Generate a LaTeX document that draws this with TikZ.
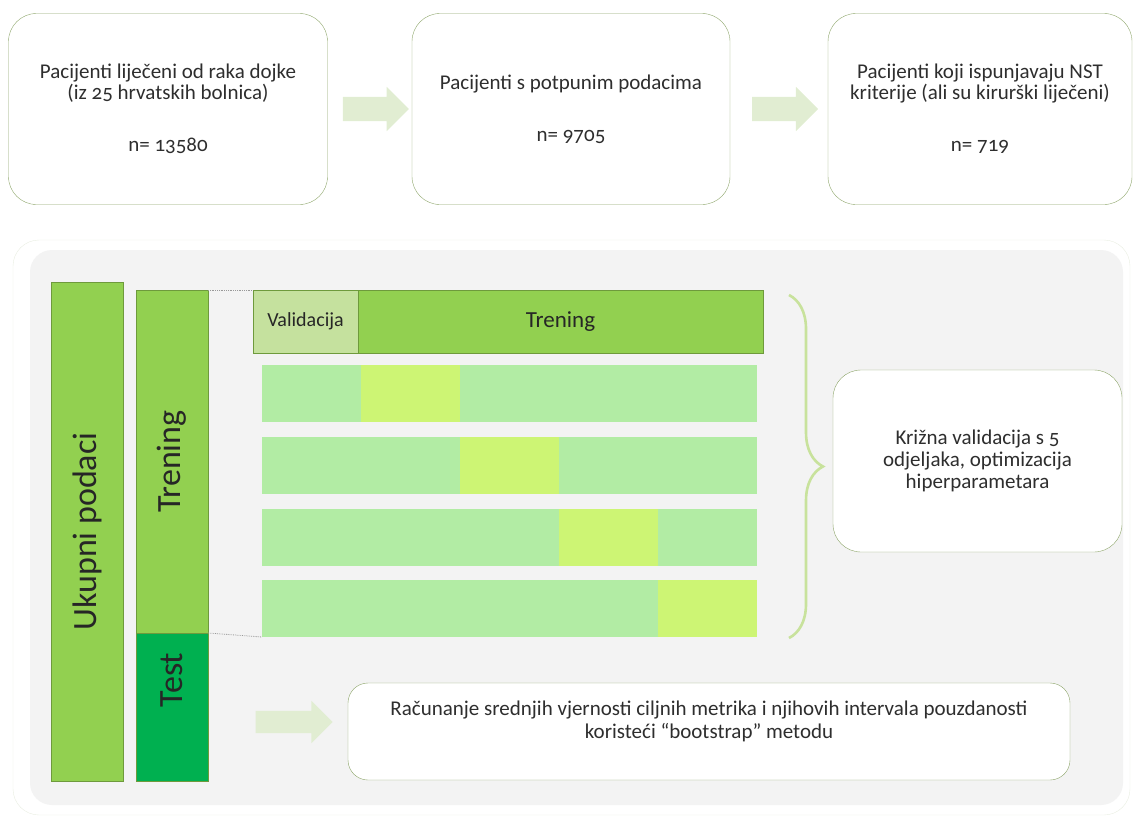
\documentclass[tikz,border=0pt]{standalone}
\usepackage{fontspec}
\setmainfont{Carlito}[Numbers=OldStyle]
\usetikzlibrary{shapes.arrows,positioning,calc,decorations.pathreplacing}
\definecolor{boxline}{HTML}{8EA66B}
\definecolor{arrowgreen}{HTML}{E1EDD2}
\definecolor{bargreen}{HTML}{92D050}
\definecolor{barline}{HTML}{6E9A3C}
\definecolor{testgreen}{HTML}{00B050}
\definecolor{validgreen}{HTML}{C5E19E}
\definecolor{foldgreen}{HTML}{B2ECA4}
\definecolor{foldlime}{HTML}{CDF574}
\definecolor{bracegreen}{HTML}{C8E29C}
\definecolor{panelgray}{HTML}{F3F3F3}
\definecolor{framegray}{HTML}{E9EEE2}
\definecolor{textgray}{HTML}{2E2E2E}

\begin{document}
\begin{tikzpicture}[x=1pt, y=-1pt,
  stepbox/.style={draw=boxline, fill=white, rounded corners=28pt, align=center,
    inner sep=0pt, outer sep=0pt, text=textgray, font=\fontsize{21}{21}\selectfont},
  flowarrow/.style={single arrow, fill=arrowgreen, draw=none, inner sep=0pt,
    inner ysep=12pt, single arrow head extend=10pt, minimum height=66pt},
  bar/.style={draw=barline, fill=bargreen, rotate=90, inner sep=0pt, outer sep=0pt,
    minimum height=72pt, text=black!85, font=\fontsize{34}{36}\selectfont},
  hdrcell/.style={draw=barline, inner sep=0pt, outer sep=0pt, minimum height=63pt,
    text=black!85},
  fold/.style={fill=foldgreen, inner sep=0pt, outer sep=0pt, minimum width=495pt,
    minimum height=57pt},
  foldval/.style={fill=foldlime, inner sep=0pt, outer sep=0pt, minimum width=99pt,
    minimum height=57pt},
  guide/.style={draw=black!40, densely dotted, thick}]
\useasboundingbox (0,0) rectangle (1134,819);

%%% patient selection %%%
      \node[stepbox, minimum width=319pt, minimum height=191pt] (treated) at (168,109)
        {\mbox{}\\[-7pt]Pacijenti liječeni od raka dojke\\(iz 25 hrvatskih bolnica)\\[31pt]n= 13580};
      \node[stepbox, minimum width=318pt, minimum height=191pt] (complete) at (571,109)
        {Pacijenti s potpunim podacima\\[31pt]n= 9705};
      \node[stepbox, minimum width=304pt, minimum height=191pt] (nst) at (980,109)
        {\mbox{}\\[-7pt]Pacijenti koji ispunjavaju NST\\kriterije (ali su kirurški liječeni)\\[31pt]n= 719};
      %%
      \node[flowarrow] (arrowa) at ($(treated.east)!0.5!(complete.west)$) {};
      \node[flowarrow] (arrowb) at ($(complete.east)!0.5!(nst.west)$) {};

%%% model training %%%
      \node[draw=framegray, fill=white, rounded corners=26pt, minimum width=1117pt,
        minimum height=575pt] (frame) at (571.5,527.5) {};
      \node[fill=panelgray, rounded corners=22pt, minimum width=1093pt,
        minimum height=555pt] (panel) at (576.5,527.5) {};
      %%
      \node[bar, minimum width=499pt] (total) at (87,531.5) {Ukupni podaci};
      \node[bar, minimum width=343pt] (trainbar) at (172,461.5) {Trening};
      \node[bar, fill=testgreen, minimum width=148pt] (testbar) at (172,707) {};
      \node[rotate=90, text=black!85, font=\fontsize{34}{36}\selectfont]
        at ([yshift=27pt]testbar.center) {Test};
      %%
      \node[hdrcell, fill=validgreen, minimum width=105pt, font=\fontsize{20}{22}\selectfont]
        (valid) at (305.5,321.5) {Validacija};
      \node[hdrcell, fill=bargreen, minimum width=405pt, font=\fontsize{23}{25}\selectfont,
        right=0pt of valid] (trainhdr) {Trening};
      %%
      \node[fold] (folda) at (509.5,393.5) {};
      \node[foldval, right=99pt of folda.west] (vala) {};
      \node[fold] (foldb) at (509.5,465.5) {};
      \node[foldval, right=198pt of foldb.west] (valb) {};
      \node[fold] (foldc) at (509.5,537.5) {};
      \node[foldval, right=297pt of foldc.west] (valc) {};
      \node[fold] (foldd) at (509.5,608.5) {};
      \node[foldval, right=396pt of foldd.west] (vald) {};
      %%
      \draw[guide] (trainbar.south east) -- (valid.north west);
      \draw[guide] (trainbar.south west) -- (foldd.south west);
      %%
      \coordinate (bracetop) at (789,295);
      \coordinate (bracebot) at (789,638);
      \draw[bracegreen, line width=2.6pt, decorate,
        decoration={brace, amplitude=34pt}] (bracetop) -- (bracebot);
      \node[stepbox, minimum width=289pt, minimum height=182pt,
        font=\fontsize{21}{22}\selectfont] (crossval) at (977.5,461)
        {Križna validacija s 5\\odjeljaka, optimizacija\\hiperparametara};
      %%
      \node[stepbox, rounded corners=20pt, minimum width=722pt, minimum height=97pt,
        font=\fontsize{21}{23}\selectfont] (bootstrap) at (709,731.5)
        {Računanje srednjih vjernosti ciljnih metrika i njihovih intervala pouzdanosti\\
         koristeći “bootstrap” metodu\\[1pt]\mbox{}};
      \node[flowarrow, inner ysep=11pt, minimum height=77pt] (arrowc) at (288.5,722) {};

\end{tikzpicture}
\end{document}
